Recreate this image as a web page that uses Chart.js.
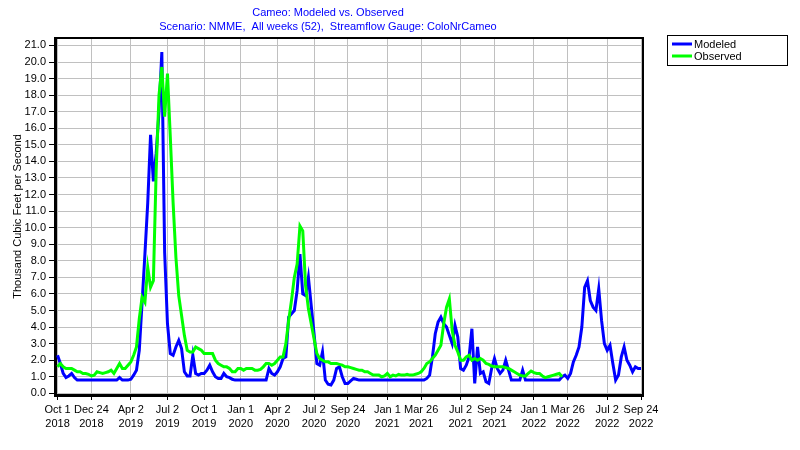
<!DOCTYPE html>
<html><head><meta charset="utf-8">
<script src="https://cdn.jsdelivr.net/npm/chart.js@4/dist/chart.umd.min.js"></script>
<style>html,body{margin:0;padding:0;background:#fff}#wrap{width:800px;height:450px;position:relative}</style>
</head><body><div id="wrap"><canvas id="c" width="800" height="450"></canvas></div>
<script>
const titleLines = ['Cameo: Modeled vs. Observed', 'Scenario: NMME,  All weeks (52),  Streamflow Gauge: ColoNrCameo'];
const yAxisTitle = 'Thousand Cubic Feet per Second';
const seriesNames = ['Modeled', 'Observed'];
const tickWeeks = [0, 12, 26, 39, 52, 65, 78, 91, 103, 117, 129, 143, 155, 169, 181, 195, 207];
const tickDates = ['Oct 1', 'Dec 24', 'Apr 2', 'Jul 2', 'Oct 1', 'Jan 1', 'Apr 2', 'Jul 2', 'Sep 24', 'Jan 1', 'Mar 26', 'Jul 2', 'Sep 24', 'Jan 1', 'Mar 26', 'Jul 2', 'Sep 24'];
const tickYears = ['2018', '2018', '2019', '2019', '2019', '2020', '2020', '2020', '2020', '2021', '2021', '2021', '2021', '2022', '2022', '2022', '2022'];
const yTicks = [0,1,2,3,4,5,6,7,8,9,10,11,12,13,14,15,16,17,18,19,20,21];

// weekly values, thousand cfs (week 0 = Oct 1 2018)
const modeled = [
 2.3,1.8,1.2,0.95,1.05,1.2,0.95,0.8,0.8,0.8,
 0.8,0.8,0.8,0.8,0.8,0.8,0.8,0.8,0.8,0.8,
 0.8,0.8,0.95,0.8,0.8,0.8,0.85,1.1,1.4,2.6,
 5.5,8.4,11.5,15.6,12.8,14.5,17.0,20.6,8.5,4.2,
 2.4,2.3,2.8,3.2,2.7,1.3,1.05,1.05,2.3,1.2,
 1.1,1.2,1.2,1.4,1.7,1.3,1.0,0.9,0.9,1.2,
 1.0,0.95,0.85,0.8,0.8,0.8,0.8,0.8,0.8,0.8,
 0.8,0.8,0.8,0.8,0.8,1.5,1.2,1.1,1.3,1.6,
 2.1,2.2,4.6,4.8,5.0,6.2,8.4,6.0,5.9,7.0,
 5.3,3.6,1.8,1.7,2.5,0.8,0.55,0.5,0.8,1.5,
 1.6,1.0,0.6,0.6,0.75,0.9,0.85,0.8,0.8,0.8,
 0.8,0.8,0.8,0.8,0.8,0.8,0.8,0.8,0.8,0.8,
 0.8,0.8,0.8,0.8,0.8,0.8,0.8,0.8,0.8,0.8,
 0.8,0.9,1.1,2.2,3.6,4.3,4.6,4.2,4.0,3.5,
 3.0,4.1,3.4,1.5,1.4,1.7,2.2,3.9,0.6,2.8,
 1.2,1.3,0.7,0.6,1.5,2.1,1.5,1.2,1.4,2.0,
 1.4,0.8,0.8,0.8,0.8,1.4,0.8,0.8,0.8,0.8,
 0.8,0.8,0.8,0.8,0.8,0.8,0.8,0.8,0.8,1.0,
 1.1,0.9,1.2,1.9,2.3,2.8,4.0,6.4,6.8,5.6,
 5.2,5.0,6.3,4.4,3.0,2.6,2.9,1.8,0.8,1.1,
 2.2,2.8,2.0,1.7,1.3,1.6,1.5,1.5
];
const observed = [
 1.6,1.8,1.6,1.5,1.5,1.5,1.4,1.3,1.3,1.2,
 1.2,1.15,1.05,1.1,1.3,1.25,1.2,1.25,1.3,1.4,
 1.2,1.5,1.8,1.5,1.5,1.7,1.9,2.3,2.8,4.5,
 5.8,5.5,7.6,6.4,6.8,13.5,18.0,19.7,16.7,19.3,
 15.5,11.5,8.2,5.9,4.7,3.5,2.6,2.5,2.5,2.8,
 2.7,2.6,2.4,2.4,2.4,2.4,2.0,1.8,1.7,1.6,
 1.6,1.5,1.3,1.3,1.5,1.5,1.4,1.5,1.5,1.5,
 1.4,1.4,1.45,1.6,1.8,1.8,1.7,1.8,2.0,2.2,
 2.2,3.0,4.4,5.6,7.0,7.8,10.1,9.8,6.5,5.1,
 4.2,3.3,2.4,2.1,2.0,1.9,1.9,1.8,1.8,1.8,
 1.75,1.7,1.6,1.6,1.55,1.5,1.45,1.4,1.4,1.3,
 1.3,1.2,1.1,1.1,1.1,1.0,1.05,1.2,1.0,1.1,
 1.05,1.15,1.1,1.1,1.15,1.1,1.1,1.15,1.2,1.3,
 1.5,1.8,1.9,2.1,2.3,2.6,2.9,4.2,5.2,5.7,
 3.8,2.9,2.5,2.0,2.0,2.2,2.3,2.0,2.1,2.0,
 2.1,2.0,1.8,1.75,1.65,1.6,1.6,1.6,1.6,1.55,
 1.5,1.4,1.3,1.2,1.1,1.05,1.05,1.2,1.35,1.25,
 1.2,1.2,1.05,0.95,1.0,1.05,1.1,1.15,1.2,1.0
];

const weekIndex = modeled.map((_, i) => i);
const FONT = "'Liberation Sans', Arial, sans-serif";

const framePlugin = {
  id: 'frame',
  afterDraw(chart) {
    const {ctx, chartArea: a} = chart;
    ctx.save();
    ctx.strokeStyle = '#000';
    ctx.lineWidth = 2;
    ctx.beginPath();
    ctx.moveTo(a.left, a.top); ctx.lineTo(a.right, a.top); ctx.lineTo(a.right, a.bottom);
    ctx.stroke();
    // title
    ctx.fillStyle = '#0000ff';
    ctx.font = '11px ' + FONT;
    ctx.textAlign = 'center';
    ctx.textBaseline = 'middle';
    ctx.fillText(titleLines[0], 328, 13);
    ctx.fillText(titleLines[1], 328, 27);
    // legend
    ctx.strokeStyle = '#000';
    ctx.lineWidth = 1;
    ctx.strokeRect(667.5, 35.5, 120, 30);
    const colors = ['#0000ff', '#00ff00'];
    seriesNames.forEach((n, i) => {
      const y = 44 + i * 12;
      ctx.strokeStyle = colors[i];
      ctx.lineWidth = 3;
      ctx.beginPath(); ctx.moveTo(672, y); ctx.lineTo(692, y); ctx.stroke();
      ctx.fillStyle = '#000';
      ctx.textAlign = 'left';
      ctx.fillText(n, 694, y + 0.5);
    });
    ctx.restore();
  }
};

new Chart(document.getElementById('c'), {
  type: 'line',
  data: {
    labels: weekIndex,
    datasets: [
      {label: seriesNames[0], data: modeled, borderColor: '#0000ff', borderWidth: 3, pointRadius: 0, tension: 0, order: 1},
      {label: seriesNames[1], data: observed, borderColor: '#00ff00', borderWidth: 3, pointRadius: 0, tension: 0, order: 0}
    ]
  },
  options: {
    responsive: false,
    animation: false,
    devicePixelRatio: 1,
    layout: {padding: {left: 0, right: 157, top: 38, bottom: 0}},
    plugins: {legend: {display: false}, title: {display: false}, tooltip: {enabled: false}},
    scales: {
      x: {
        type: 'linear',
        min: -0.9,
        max: 207.7,
        afterBuildTicks: s => { s.ticks = tickWeeks.map(v => ({value: v})); },
        afterFit: s => { s.height = 55; },
        ticks: {
          autoSkip: false, maxRotation: 0, minRotation: 0, padding: 3,
          color: '#000', font: {family: FONT, size: 11, lineHeight: 1.3},
          callback: (v, i) => [tickDates[i], tickYears[i]]
        },
        grid: {color: '#c0c0c0', lineWidth: 1, tickColor: '#000', tickLength: 5, drawTicks: true},
        border: {display: true, color: '#000', width: 3}
      },
      y: {
        type: 'linear',
        min: -0.1,
        max: 21.45,
        afterBuildTicks: s => { s.ticks = yTicks.map(v => ({value: v})); },
        afterFit: s => { s.width = 55; },
        ticks: {padding: 3, color: '#000', font: {family: FONT, size: 11}, callback: v => v.toFixed(1)},
        grid: {color: '#c0c0c0', lineWidth: 1, tickColor: '#000', tickLength: 6, drawTicks: true},
        border: {display: true, color: '#000', width: 3},
        title: {display: true, text: yAxisTitle, color: '#000', font: {family: FONT, size: 11}, padding: {top: 11, bottom: 0}}
      }
    }
  },
  plugins: [framePlugin]
});
</script>
</body></html>
